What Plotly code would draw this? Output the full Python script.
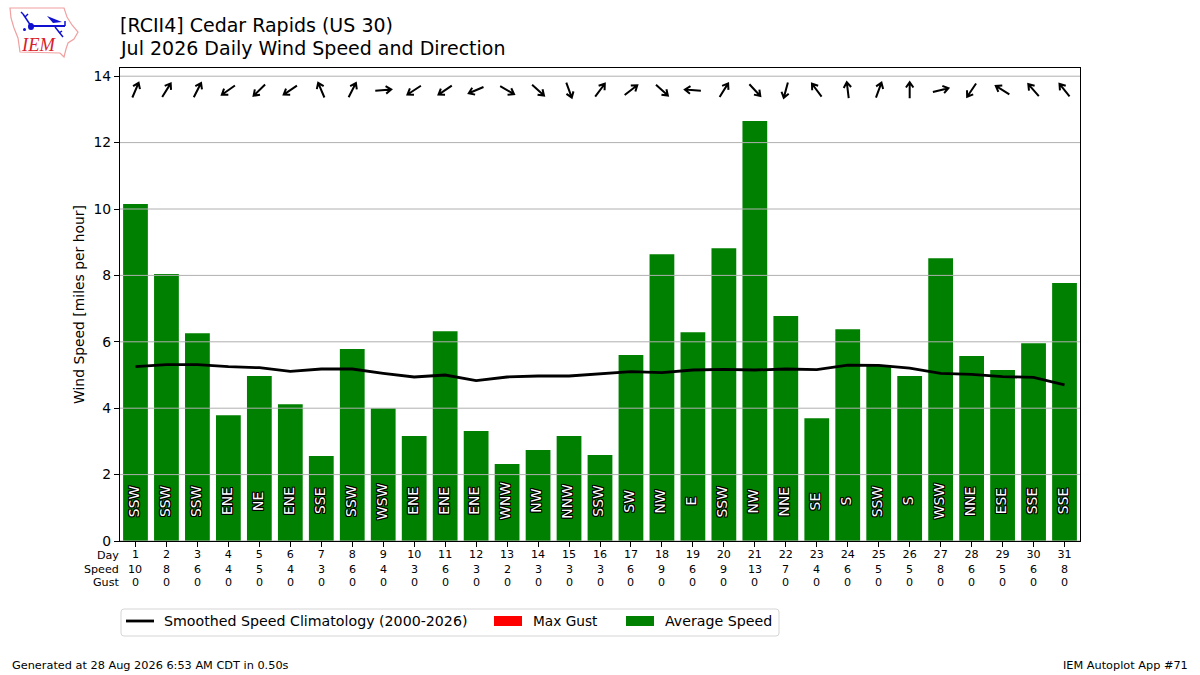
import math
import plotly.graph_objects as go

# values
days = list(range(1, 32))
avg_speed = [10.15, 8.04, 6.26, 3.79, 4.97, 4.12, 2.56, 5.78, 4.0, 3.16, 6.32, 3.31, 2.32, 2.74, 3.16, 2.59,
             5.6, 8.64, 6.29, 8.82, 12.65, 6.78, 3.7, 6.38, 5.3, 4.97, 8.52, 5.57, 5.15, 5.96, 7.77]
max_gust = [0] * 31
clim_speed = [5.25, 5.31, 5.31, 5.25, 5.22, 5.11, 5.18, 5.18, 5.05, 4.94, 5.0, 4.83, 4.94, 4.97, 4.97, 5.03,
              5.1, 5.07, 5.15, 5.17, 5.15, 5.18, 5.16, 5.3, 5.29, 5.21, 5.05, 5.02, 4.95, 4.93, 4.7]
dir_labels = ["SSW", "SSW", "SSW", "ENE", "NE", "ENE", "SSE", "SSW", "WSW", "ENE", "ENE", "ENE", "WNW", "NW", "NNW", "SSW",
              "SW", "NW", "E", "SSW", "NW", "NNE", "SE", "S", "SSW", "S", "WSW", "NNE", "ESE", "SSE", "SSE"]
# direction the wind came from, degrees
wind_dir = [203, 212, 207, 55, 46, 56, 157, 207, 265, 57, 56, 67, 300, 312, 340, 217,
            232, 312, 94, 212, 317, 15, 143, 173, 200, 180, 256, 34, 122, 139, 141]
speed_row = [10, 8, 6, 4, 5, 4, 3, 6, 4, 3, 6, 3, 2, 3, 3, 3, 6, 9, 6, 9, 13, 7, 4, 6, 5, 5, 8, 6, 5, 6, 8]
gust_row = [0] * 31
y_ticks = [0, 2, 4, 6, 8, 10, 12, 14]

FONT = "DejaVu Sans"
HALO = "-1px -1px 0 #000, 1px -1px 0 #000, -1px 1px 0 #000, 1px 1px 0 #000, 0 -1px 0 #000, 0 1px 0 #000, -1px 0 0 #000, 1px 0 0 #000"
GREEN = "#008000"
RED = "#ff0000"


# figure pixels to paper fractions, plot area is 120-1080 x 68-541
def px(x):
    return (x - 120) / 960


def py(y):
    return (541 - y) / 473


fig = go.Figure()
fig.add_trace(go.Bar(x=days, y=max_gust, name="Max Gust", marker=dict(color=RED, line_width=0), width=0.8))
fig.add_trace(go.Bar(x=days, y=avg_speed, name="Average Speed", marker=dict(color=GREEN, line_width=0), width=0.8))
fig.add_trace(go.Scatter(x=days, y=clim_speed, mode="lines", name="Smoothed Speed Climatology (2000-2026)",
                         line=dict(color="black", width=2.8)))

shapes = []
# gridlines sit over the bars
for t in y_ticks:
    shapes.append(dict(type="line", xref="paper", x0=0, x1=1, yref="y", y0=t, y1=t,
                       line=dict(color="#b0b0b0", width=1), layer="above"))

# direction arrows, drawn in pixels around an anchor on the axes
ARROW = 8.0
BARB = 6.5
for d, wd in zip(days, wind_dir):
    head = math.radians((wd + 180) % 360)
    ux, uy = math.sin(head), math.cos(head)
    tip = (ux * ARROW, uy * ARROW)
    tail = (-ux * ARROW, -uy * ARROW)
    barbs = []
    for off in (35, -35):
        back = head + math.pi + math.radians(off)
        barbs.append((tip[0] + math.sin(back) * BARB, tip[1] + math.cos(back) * BARB))
    path = (f"M {tail[0]:.2f} {tail[1]:.2f} L {tip[0]:.2f} {tip[1]:.2f} "
            f"M {barbs[0][0]:.2f} {barbs[0][1]:.2f} L {tip[0]:.2f} {tip[1]:.2f} L {barbs[1][0]:.2f} {barbs[1][1]:.2f}")
    shapes.append(dict(type="path", path=path, xref="x", yref="y", xsizemode="pixel", ysizemode="pixel",
                       xanchor=d, yanchor=13.58, line=dict(color="black", width=2), layer="above"))

# logo, pink Iowa outline with a blue station model
iowa = [(10, 8), (64, 8), (67, 17), (72, 25), (78, 32), (74, 39), (68, 43), (66, 49), (64, 57), (60, 53),
        (20, 52), (18, 38), (14, 28), (11, 18)]
shapes.append(dict(type="path", xref="paper", yref="paper",
                   path="M " + " L ".join(f"{px(x):.5f} {py(y):.5f}" for x, y in iowa) + " Z",
                   line=dict(color="#f0a0a0", width=1.2)))
for x0, y0, x1, y1, w in [(32, 26, 65, 26, 2), (31, 26, 23, 14, 1.5), (23, 14, 21, 12, 1.5), (25, 17, 28, 14, 1.5),
                          (55, 27, 63, 37, 1.5), (65, 21, 65, 26, 1.5), (59, 33, 62, 31, 1.5)]:
    shapes.append(dict(type="line", xref="paper", yref="paper", x0=px(x0), y0=py(y0), x1=px(x1), y1=py(y1),
                       line=dict(color="#1010d0", width=w)))
flag = [(47, 16), (62, 22), (53, 23)]
shapes.append(dict(type="path", xref="paper", yref="paper", fillcolor="#1010d0", line_width=0,
                   path="M " + " L ".join(f"{px(x):.5f} {py(y):.5f}" for x, y in flag) + " Z"))
shapes.append(dict(type="circle", xref="paper", yref="paper", x0=px(28), y0=py(23), x1=px(34), y1=py(30),
                   fillcolor="#1010d0", line_width=0))
shapes.append(dict(type="circle", xref="paper", yref="paper", x0=px(23), y0=py(28), x1=px(26), y1=py(31),
                   fillcolor="#1010d0", line_width=0))

# hand drawn legend, the native one can only do small square swatches
shapes.append(dict(type="path", xref="paper", yref="paper", fillcolor="white",
                   path=f"M {px(124)} {py(609)} L {px(776)} {py(609)} Q {px(779)} {py(609)} {px(779)} {py(612)} "
                        f"L {px(779)} {py(633)} Q {px(779)} {py(636)} {px(776)} {py(636)} "
                        f"L {px(124)} {py(636)} Q {px(121)} {py(636)} {px(121)} {py(633)} "
                        f"L {px(121)} {py(612)} Q {px(121)} {py(609)} {px(124)} {py(609)} Z",
                   line=dict(color="#d5d5d5", width=1)))
shapes.append(dict(type="line", xref="paper", yref="paper", x0=px(126), x1=px(154), y0=py(621), y1=py(621),
                   line=dict(color="black", width=2.8)))
for x0, x1, c in [(494, 522, RED), (626, 654, GREEN)]:
    shapes.append(dict(type="rect", xref="paper", yref="paper", x0=px(x0), x1=px(x1), y0=py(616), y1=py(626),
                       fillcolor=c, line_width=0))

annotations = []
for d, lab in zip(days, dir_labels):
    annotations.append(dict(x=d, y=1.2, xref="x", yref="y", text=lab, showarrow=False, textangle=-90, xshift=-1.5,
                            font=dict(family=FONT, size=13.9, color="white", shadow=HALO)))
# the speed and gust rows under the day ticks
for d, s, g in zip(days, speed_row, gust_row):
    annotations.append(dict(x=d, y=py(569), xref="x", yref="paper", text=str(s), showarrow=False,
                            xanchor="center", yanchor="middle",
                            font=dict(family=FONT, size=11.1, color="black")))
    annotations.append(dict(x=d, y=py(582), xref="x", yref="paper", text=str(g), showarrow=False,
                            xanchor="center", yanchor="middle",
                            font=dict(family=FONT, size=11.1, color="black")))


def page_text(x, y, text, size, xanchor="left", color="black", family=FONT):
    shift = -2 if xanchor == "left" else 2
    annotations.append(dict(x=px(x), y=py(y), xref="paper", yref="paper", text=text, showarrow=False,
                            xanchor=xanchor, yanchor="middle", align=xanchor, xshift=shift,
                            font=dict(family=family, size=size, color=color)))


page_text(120, 25, "[RCII4] Cedar Rapids (US 30)", 19)
page_text(120, 48, "Jul 2026 Daily Wind Speed and Direction", 19)
page_text(119, 555, "Day", 11.1, "right")
page_text(119, 569, "Speed", 11.1, "right")
page_text(119, 582, "Gust", 11.1, "right")
page_text(12, 665, "Generated at 28 Aug 2026 6:53 AM CDT in 0.50s", 11.3)
page_text(1188, 665, "IEM Autoplot App #71", 11.3, "right")
page_text(21, 45, "<i>IEM</i>", 18.5, color="#d8202a", family="Liberation Serif")
page_text(164, 621, "Smoothed Speed Climatology (2000-2026)", 14.2)
page_text(533, 621, "Max Gust", 13.7)
page_text(665, 621, "Average Speed", 14.2)

fig.update_layout(
    width=1200, height=675, autosize=False,
    margin=dict(l=120, r=120, t=68, b=134),
    paper_bgcolor="white", plot_bgcolor="white",
    font=dict(family=FONT, size=13.9, color="black"),
    barmode="overlay", showlegend=False,
    shapes=shapes, annotations=annotations,
)
fig.update_xaxes(range=[0.5, 31.5], tickmode="array", tickvals=days,
                 tickfont=dict(family=FONT, size=11.1), tickangle=0, ticklabelstandoff=-2,
                 ticks="outside", ticklen=5, tickwidth=1, tickcolor="black",
                 showline=True, linecolor="black", linewidth=1.1, mirror=True, showgrid=False, zeroline=False)
fig.update_yaxes(range=[0, 14.247], tickmode="array", tickvals=y_ticks,
                 tickfont=dict(family=FONT, size=13.9),
                 ticks="outside", ticklen=5, tickwidth=1, tickcolor="black",
                 showline=True, linecolor="black", linewidth=1.1, mirror=True, showgrid=False, zeroline=False,
                 title=dict(text="Wind Speed [miles per hour]", font=dict(family=FONT, size=13.9), standoff=5))

# the page has a default body margin of 8px
fig.write_html("out.html", post_script="document.body.style.margin = '0';",
               config=dict(displayModeBar=False))
